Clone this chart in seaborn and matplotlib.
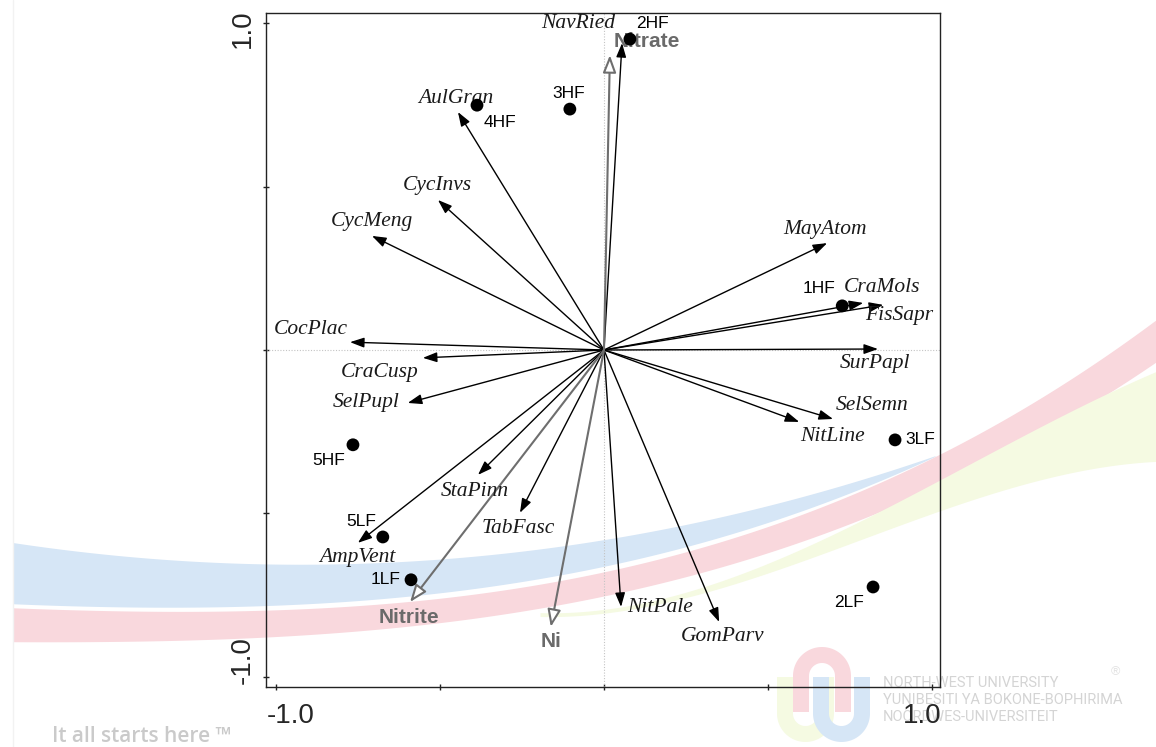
import numpy as np
import pandas as pd
import matplotlib
matplotlib.use('Agg')
import matplotlib.pyplot as plt
from matplotlib.patches import FancyArrowPatch, ArrowStyle
import seaborn as sns

# species scores (arrow tips)
species = ['NavRied', 'AulGran', 'CycInvs', 'CycMeng', 'CocPlac', 'CraCusp', 'SelPupl',
           'StaPinn', 'TabFasc', 'AmpVent', 'NitPale', 'GomParv', 'MayAtom', 'CraMols',
           'FisSapr', 'SurPapl', 'SelSemn', 'NitLine']
species_x = [0.055, -0.445, -0.506, -0.707, -0.774, -0.552, -0.598, -0.384, -0.256,
             -0.750, 0.052, 0.351, 0.680, 0.790, 0.851, 0.835, 0.698, 0.595]
species_y = [0.939, 0.728, 0.459, 0.349, 0.024, -0.024, -0.162, -0.382, -0.498,
             -0.590, -0.786, -0.832, 0.327, 0.144, 0.138, 0.003, -0.211, -0.220]

# environmental variables
env_vars = ['Nitrate', 'Nitrite', 'Ni']
env_x = [0.018, -0.591, -0.162]
env_y = [0.902, -0.771, -0.847]

# sample scores
samples = ['1HF', '2HF', '3HF', '4HF', '5HF', '1LF', '2LF', '3LF', '5LF']
sample_x = [0.726, 0.079, -0.104, -0.387, -0.765, -0.588, 0.820, 0.887, -0.674]
sample_y = [0.135, 0.951, 0.737, 0.749, -0.290, -0.703, -0.725, -0.275, -0.572]

# label offsets from the mark, in pixels (layout only)
species_off = {'NavRied': (-44, 20), 'AulGran': (-2, 14), 'CycInvs': (-1, 14),
               'CycMeng': (0, 14), 'CocPlac': (-39, 13), 'CraCusp': (-43, -15),
               'SelPupl': (-42, 0), 'StaPinn': (-3, -17), 'TabFasc': (-2, -16),
               'AmpVent': (-1, -15), 'NitPale': (39, -1), 'GomParv': (3, -15),
               'MayAtom': (-2, 14), 'CraMols': (19, 15), 'FisSapr': (16, -11),
               'SurPapl': (-3, -14), 'SelSemn': (39, 13), 'NitLine': (33, -15)}
env_off = {'Nitrate': (37, 14), 'Nitrite': (-1, -15), 'Ni': (0, -15)}
sample_off = {'1HF': (-23, 17), '2HF': (23, 16), '3HF': (-1, 16), '4HF': (23, -17),
              '5HF': (-24, -16), '1LF': (-25, 0), '2LF': (-24, -16), '3LF': (25, 0),
              '5LF': (-22, 15)}

sns.set_theme(style='white')
plt.rcParams['font.family'] = ['Liberation Sans', 'DejaVu Sans']

W, H = 1156, 747
fig = plt.figure(figsize=(W / 100, H / 100), dpi=100)
fig.patch.set_facecolor('white')

# ---- slide background (bands, logo, slogan) ----
bg = fig.add_axes([0, 0, 1, 1], zorder=0)
bg.set_xlim(0, W)
bg.set_ylim(H, 0)
bg.axis('off')


def edge(pts, xs):
    px, py = np.array(pts, dtype=float).T
    return np.polyval(np.polyfit(px, py, 3), xs)


def band(top, bottom, color):
    xs = np.linspace(max(top[0][0], bottom[0][0]), min(top[-1][0], bottom[-1][0]), 400)
    yt, yb = edge(top, xs), edge(bottom, xs)
    bg.fill_between(xs, yt, yb, where=yb > yt, color=color, lw=0, zorder=1)


band([(13, 542), (266, 567), (455, 553), (580, 543), (680, 530), (840, 484), (935, 456)],
     [(13, 603), (266, 610), (455, 583), (580, 573), (680, 553), (840, 494), (935, 457)],
     '#d6e6f6')
band([(13, 607), (266, 615), (455, 587), (580, 580), (680, 558), (840, 497), (1156, 320)],
     [(13, 642), (266, 638), (455, 614), (580, 603), (680, 588), (840, 520), (1156, 363)],
     '#f9d8dd')
band([(540, 612), (680, 596), (840, 528), (1000, 450), (1156, 371)],
     [(540, 615), (680, 604), (860, 532), (1000, 497), (1156, 460)],
     '#f5fae2')
bg.plot([13, 13], [0, H], color='#f2f2f2', lw=1, zorder=1)


def u_shape(cx, y_end, y_arc, r, color, up=False):
    t = np.linspace(0, np.pi, 60)
    xs = np.concatenate([[cx - r], cx - r * np.cos(t), [cx + r]])
    if up:
        ys = np.concatenate([[y_end], y_arc - r * np.sin(t), [y_end]])
    else:
        ys = np.concatenate([[y_end], y_arc + r * np.sin(t), [y_end]])
    bg.plot(xs, ys, color=color, lw=11.5, solid_capstyle='butt', zorder=2)


u_shape(805.5, 677, 713.5, 20.5, '#f5fae2')
u_shape(822, 712, 676, 21, '#f9d8dd', up=True)
u_shape(841.5, 677, 713.5, 20.5, '#d6e6f6')

bg.text(52, 742, 'It all starts here \u2122', fontsize=15, color='#cacaca',
        family=['Open Sans', 'DejaVu Sans'], fontweight='semibold', va='baseline', ha='left')
for i, line in enumerate(['NORTH-WEST UNIVERSITY', 'YUNIBESITI YA BOKONE-BOPHIRIMA',
                          'NOORDWES-UNIVERSITEIT']):
    bg.text(883, 687 + 17 * i, line, fontsize=10.5, color='#d4d4d4',
            family=['Roboto', 'DejaVu Sans'], va='baseline', ha='left')
bg.text(1115, 672, '\u00ae', fontsize=9, color='#e2e2e2', ha='center', va='center')

# ---- biplot ----
ax = fig.add_axes([266 / W, (H - 687) / H, 674 / W, 674 / H], zorder=1)
ax.set_facecolor('none')
ax.set_xlim(-1.030, 1.024)
ax.set_ylim(-1.031, 1.031)

ax.axhline(0, color='#c4c4c4', lw=0.8, ls=(0, (1, 1.5)), zorder=1)
ax.axvline(0, color='#c4c4c4', lw=0.8, ls=(0, (1, 1.5)), zorder=1)

sp_style = ArrowStyle('-|>', head_length=8.5, head_width=3.0)
for name, x, y in zip(species, species_x, species_y):
    ax.add_patch(FancyArrowPatch((0, 0), (x, y), arrowstyle=sp_style, mutation_scale=1,
                                 color='black', lw=1.0, shrinkA=0, shrinkB=0, zorder=3))
    ax.annotate(name, (x, y), xytext=species_off[name], textcoords='offset pixels',
                ha='center', va='center', fontsize=15.5, color='#1a1a1a',
                family=['Liberation Serif', 'DejaVu Serif'], style='italic', zorder=6)

env_style = ArrowStyle('-|>', head_length=10.5, head_width=4.0)
for name, x, y in zip(env_vars, env_x, env_y):
    ax.add_patch(FancyArrowPatch((0, 0), (x, y), arrowstyle=env_style, mutation_scale=1,
                                 fc='white', ec='#6e6e6e', lw=1.5, shrinkA=0, shrinkB=0,
                                 zorder=4))
    ax.annotate(name, (x, y), xytext=env_off[name], textcoords='offset pixels',
                ha='center', va='center', fontsize=15, color='#6a6a6a',
                fontweight='bold', zorder=6)

df = pd.DataFrame({'sample': samples, 'x': sample_x, 'y': sample_y})
sns.scatterplot(data=df, x='x', y='y', color='black', s=85, edgecolor='none',
                legend=False, ax=ax, zorder=7)
for name, x, y in zip(samples, sample_x, sample_y):
    ax.annotate(name, (x, y), xytext=sample_off[name], textcoords='offset pixels',
                ha='center', va='center', fontsize=12.5, color='black', zorder=6)

# frame and ticks
for s in ax.spines.values():
    s.set_visible(True)
    s.set_color('#222222')
    s.set_linewidth(1.0)
ticks = [-1, -0.5, 0, 0.5, 1]
ax.set_xticks(ticks)
ax.set_yticks(ticks)
ax.set_xticklabels([])
ax.set_yticklabels([])
ax.tick_params(direction='inout', length=4.3, width=1.0, color='#222222',
               bottom=True, left=True, top=False, right=False)
ax.set_xlabel('')
ax.set_ylabel('')

# tick labels placed as in the original
ax.annotate('-1.0', (-1, 0), xycoords=('data', 'axes fraction'), xytext=(15, -36),
            textcoords='offset pixels', ha='center', va='baseline', fontsize=20)
ax.annotate('1.0', (1, 0), xycoords=('data', 'axes fraction'), xytext=(-10, -36),
            textcoords='offset pixels', ha='center', va='baseline', fontsize=20)
ax.annotate('1.0', (0, 1), xycoords=('axes fraction', 'data'), xytext=(-16, -6),
            textcoords='offset pixels', ha='center', va='baseline', fontsize=20,
            rotation=90, rotation_mode='anchor')
ax.annotate('-1.0', (0, -1), xycoords=('axes fraction', 'data'), xytext=(-16, 17),
            textcoords='offset pixels', ha='center', va='baseline', fontsize=20,
            rotation=90, rotation_mode='anchor')

fig.savefig('out.png', dpi=100)
